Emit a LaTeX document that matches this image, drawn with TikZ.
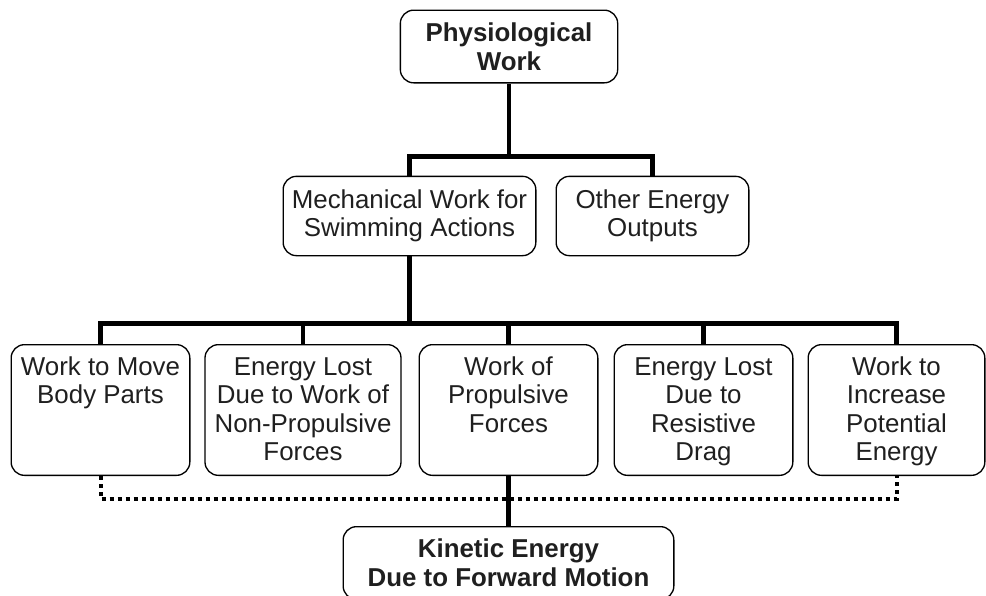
\documentclass[tikz,border=0pt]{standalone}
\usepackage{fontspec}
\setmainfont{Liberation Sans}
\usepackage{tikz}
\usetikzlibrary{calc}

\tikzset{
  box/.style = {draw, line width = 1pt, rounded corners = 10pt, align = center,
    text = black!88, font = \fontsize{19.4pt}{21.4pt}\selectfont},
  leaf/.style = {box, anchor = north, inner xsep = 0pt, inner ysep = 8pt},
  trunk/.style = {line width = 3.6pt},
  dotline/.style = {line width = 3pt, dash pattern = on 3pt off 3pt}
}
\newcommand{\leafbody}[2]{\parbox[t][82pt][t]{#1}{\centering\strut #2}}

\begin{document}
\begin{tikzpicture}[x = 0.75pt, y = -0.75pt]
\clip (0, 0) rectangle (986, 596);
\node[box, minimum width = 163pt, minimum height = 54.5pt, font = \fontsize{19.4pt}{21.4pt}\selectfont\bfseries] (phys) at (509, 46.5) {Physiological\\Work};
\node[box, minimum width = 189.5pt, minimum height = 59.5pt] (mech) at (409.5, 216) {Mechanical Work for\\Swimming Actions};
\node[box, minimum width = 144.5pt, minimum height = 59.5pt] (other) at (652.5, 216) {Other Energy\\Outputs};
\node[leaf] (body) at (100.5, 344) {\leafbody{134pt}{Work to Move\\Body Parts}};
\node[leaf] (nonprop) at (303, 344) {\leafbody{147pt}{Energy Lost\\Due to Work of\\Non-Propulsive\\Forces}};
\node[leaf] (prop) at (508.5, 344) {\leafbody{134pt}{Work of\\Propulsive\\Forces}};
\node[leaf] (drag) at (703.5, 344) {\leafbody{134pt}{Energy Lost\\Due to\\Resistive\\Drag}};
\node[leaf] (pot) at (896.5, 344) {\leafbody{132.5pt}{Work to\\Increase\\Potential\\Energy}};
\node[box, minimum width = 248pt, minimum height = 54.5pt, font = \fontsize{19.4pt}{21.4pt}\selectfont\bfseries] (kin) at (508.5, 563) {Kinetic Energy\\Due to Forward Motion};
\draw[trunk] (phys.south) -- ++(0, 73) coordinate (j1) -| (mech.north);
\draw[trunk] (j1) -| (other.north);
\draw[trunk] (mech.south) -- ++(0, 67) coordinate (j2);
\foreach \n in {body, nonprop, prop, drag, pot}
  \draw[trunk] (j2) -| (\n.north);
\draw[dotline] (body.south) -- ++(0, 23) -| (pot.south);
\draw[trunk] (prop.south) -- (kin.north);
\end{tikzpicture}
\end{document}
